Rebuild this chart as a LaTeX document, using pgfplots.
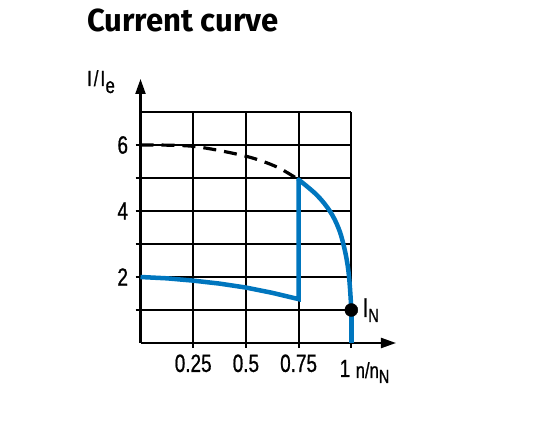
\documentclass[border=0pt]{standalone}
\usepackage{fontspec}
\setmainfont{Liberation Sans}[FakeStretch=0.76,FakeBold=0.8]
\newfontfamily\titlefont{Fira Sans}[FakeStretch=0.975]
\usepackage{pgfplots}
\pgfplotsset{compat=1.18}
\usetikzlibrary{arrows.meta}
\definecolor{curveblue}{RGB}{0,118,190}
\begin{document}
\begin{tikzpicture}
\useasboundingbox (0bp,0bp) rectangle (548bp,428bp);
\node[anchor=base west, inner sep=0pt] at (87bp,396bp) {\titlefont\bfseries\fontsize{32}{36}\selectfont Current curve};
\begin{axis}[
  at={(140.5bp,85bp)}, anchor=south west,
  x=210.8bp, y=33bp,
  xmin=0, xmax=1.212, ymin=0, ymax=8.0,
  axis lines=left,
  axis line style={line width=2.2bp, -{Triangle[length=15bp,width=10bp]}},
  xtick={0.25,0.5,0.75,1}, xticklabels={0.25,0.5,0.75,{}},
  ytick={1,2,3,4,5,6}, yticklabels={{},2,{},4,{},6},
  tick style={black, line width=2bp},
  major tick length=5bp, tick align=outside,
  ticklabel style={font=\fontsize{25}{25}\selectfont},
  xticklabel style={yshift=-3bp},
  yticklabel style={xshift=-4bp},
  /pgf/number format/assume math mode=true,
  clip=false,
]
% grid
\draw[black, line width=2bp] (axis cs:0,1) -- (axis cs:1,1);
\draw[black, line width=2bp] (axis cs:0,2) -- (axis cs:1,2);
\draw[black, line width=2bp] (axis cs:0,3) -- (axis cs:1,3);
\draw[black, line width=2bp] (axis cs:0,4) -- (axis cs:1,4);
\draw[black, line width=2bp] (axis cs:0,5) -- (axis cs:1,5);
\draw[black, line width=2bp] (axis cs:0,6) -- (axis cs:1,6);
\draw[black, line width=2bp] (axis cs:0,7) -- (axis cs:1,7);
\draw[black, line width=2bp] (axis cs:0.25,0) -- (axis cs:0.25,7);
\draw[black, line width=2bp] (axis cs:0.5,0) -- (axis cs:0.5,7);
\draw[black, line width=2bp] (axis cs:0.75,0) -- (axis cs:0.75,7);
\draw[black, line width=2bp] (axis cs:1,0) -- (axis cs:1,7);
% dashed curve
\addplot[black, line width=3.2bp, dash pattern=on 13bp off 8bp, smooth] coordinates {
  (0,6) (0.25,5.96) (0.5,5.66) (0.645,5.34) (0.75,4.95)
};
% blue curve: low-speed part and jump
\addplot[curveblue, line width=4.5bp] coordinates {
  (0,2.0) (0.125,1.96) (0.25,1.89) (0.375,1.80) (0.5,1.68) (0.625,1.52) (0.75,1.33)
  (0.75,4.95)
};
% blue curve: high-speed part
\addplot[curveblue, line width=4.5bp, line cap=round, smooth, tension=0.6] coordinates {
  (0.75,4.95) (0.837,4.48) (0.90,3.98) (0.94,3.47) (0.963,2.98) (0.98,2.46)
  (0.99,1.96) (0.997,1.35) (1.0,1.0)
};
\addplot[curveblue, line width=4.5bp] coordinates {(1.0,1.0) (1.0,0)};
% rated point
\addplot[only marks, mark=*, mark size=6.5bp, black] coordinates {(1,1)};
\node[anchor=base west, inner sep=0pt] at (axis cs:1.053,0.79)
  {\fontsize{27}{27}\selectfont I\raisebox{-5bp}{\fontsize{19}{19}\selectfont N}};
\node[anchor=base, inner sep=0pt] at (axis cs:0.97,-1.03) {\fontsize{25}{25}\selectfont 1};
\node[anchor=base west, inner sep=0pt] at (axis cs:1.02,-1.06)
  {\fontsize{22}{22}\selectfont n/n\raisebox{-5bp}{\fontsize{19}{19}\selectfont N}};
\end{axis}
\node[anchor=base west, inner sep=0pt] at (87bp,342bp)
  {\fontsize{22}{22}\selectfont I\kern2bp/\kern2bp I\kern0.5bp\raisebox{-7bp}{e}};
\end{tikzpicture}
\end{document}
